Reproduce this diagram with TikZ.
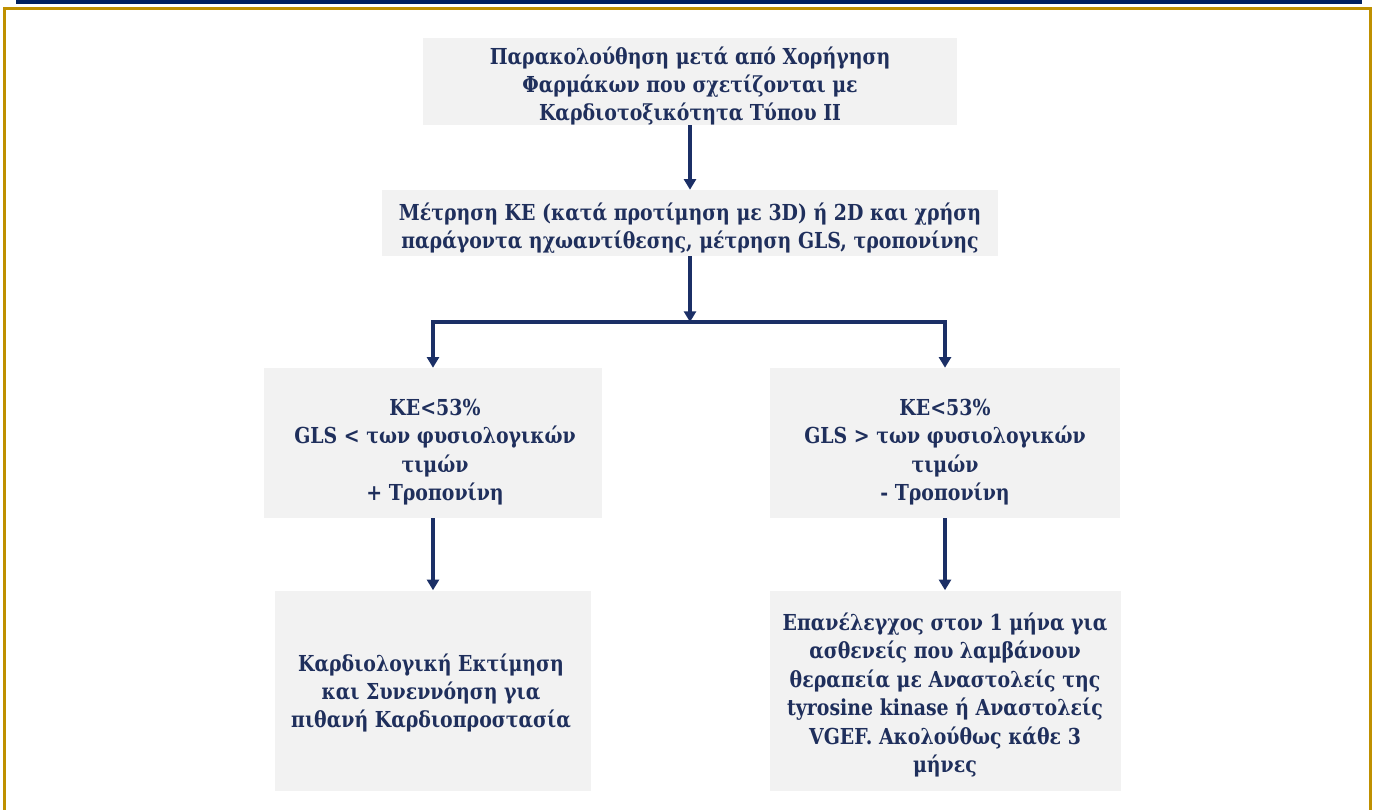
\documentclass[tikz,border=0pt]{standalone}
\usepackage{fontspec}
\setmainfont{DejaVu Serif}[FakeStretch=0.86]
\usetikzlibrary{arrows.meta}
\definecolor{navybar}{HTML}{002060}
\definecolor{goldline}{HTML}{BF9000}
\definecolor{boxgray}{HTML}{F2F2F2}
\definecolor{textnavy}{HTML}{1F2F5C}
\definecolor{arrownavy}{HTML}{1B2F66}
\tikzset{
  flowbox/.style={fill=boxgray, draw=none, inner sep=0pt},
  flowtext/.style={inner sep=0pt, align=center, text=textnavy,
    font=\bfseries\fontsize{16.5}{21.3}\selectfont},
  flowarrow/.style={draw=arrownavy, line width=2.3pt,
    -{Triangle[width=9pt,length=8pt]}},
  flowline/.style={draw=arrownavy, line width=2.3pt}
}
\begin{document}
\begin{tikzpicture}[x=0.75pt,y=-0.75pt]
  \useasboundingbox (0,0) rectangle (1375,810);
  % header bar and open gold frame
  \fill[navybar] (16,0) rectangle (1362,4);
  \draw[goldline, line width=2.3pt] (4.5,812) -- (4.5,8.5) -- (1370.5,8.5) -- (1370.5,812);

  % boxes
  \node[flowbox, minimum width=534*0.75pt, minimum height=87*0.75pt] (top) at (690,81.5) {};
  \node[flowbox, minimum width=616*0.75pt, minimum height=66*0.75pt] (measure) at (690,223) {};
  \node[flowbox, minimum width=338*0.75pt, minimum height=150*0.75pt] (lmid) at (433,443) {};
  \node[flowbox, minimum width=350*0.75pt, minimum height=150*0.75pt] (rmid) at (945,443) {};
  \node[flowbox, minimum width=316*0.75pt, minimum height=200*0.75pt] (lbot) at (433,690.5) {};
  \node[flowbox, minimum width=351*0.75pt, minimum height=200*0.75pt] (rbot) at (945,690.5) {};

  % box texts
  \node[flowtext] (toptext) at (690,86)
    {Παρακολούθηση μετά από Χορήγηση\\Φαρμάκων που σχετίζονται με\\Καρδιοτοξικότητα Τύπου ΙΙ};
  \node[flowtext] (measuretext) at (690,228)
    {Μέτρηση ΚΕ (κατά προτίμηση με 3D) ή 2D και χρήση\\παράγοντα ηχωαντίθεσης, μέτρηση GLS, τροπονίνης};
  \node[flowtext] (lmidtext) at (435,452)
    {ΚΕ<53\%\\GLS < των φυσιολογικών\\τιμών\\+ Τροπονίνη};
  \node[flowtext] (rmidtext) at (945,452)
    {ΚΕ<53\%\\GLS > των φυσιολογικών\\τιμών\\- Τροπονίνη};
  \node[flowtext] (lbottext) at (431,693)
    {Καρδιολογική Εκτίμηση\\και Συνεννόηση για\\πιθανή Καρδιοπροστασία};
  \node[flowtext] (rbottext) at (945,695)
    {Επανέλεγχος στον 1 μήνα για\\ασθενείς που λαμβάνουν\\θεραπεία με Αναστολείς της\\tyrosine kinase ή Αναστολείς\\VGEF. Ακολούθως κάθε 3\\μήνες};

  % connectors
  \coordinate (split) at (690,322);
  \coordinate (splitl) at (433,322);
  \coordinate (splitr) at (945,322);
  \draw[flowarrow] (top.south) -- (measure.north);
  \draw[flowarrow] (measure.south) -- (split);
  \draw[flowline, line cap=rect] (splitl) -- (splitr);
  \draw[flowarrow] (splitl) -- (lmid.north);
  \draw[flowarrow] (splitr) -- (rmid.north);
  \draw[flowarrow] (lmid.south) -- (lbot.north);
  \draw[flowarrow] (rmid.south) -- (rbot.north);
\end{tikzpicture}
\end{document}
